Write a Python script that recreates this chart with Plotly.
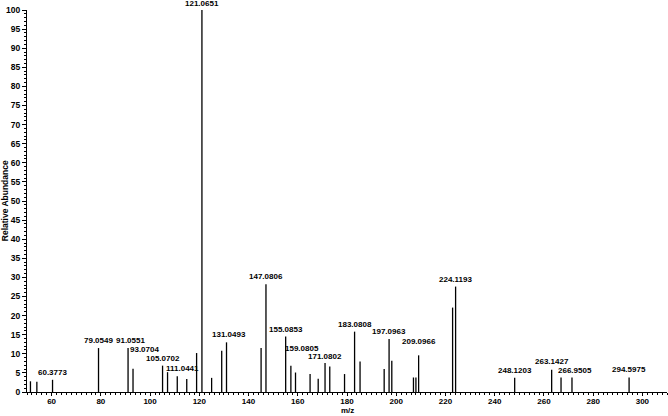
import plotly.graph_objects as go

# ---- data ----
mz = [51.4, 54.0, 60.3773, 79.0549, 91.0551, 93.0704, 105.0702, 107.1, 111.0441,
      114.9, 118.9, 121.0651, 125.0, 129.1, 131.0493, 145.1, 147.0806, 155.0853,
      157.2, 159.0805, 165.0, 168.3, 171.0802, 173.0, 179.0, 183.0808, 185.3,
      195.1, 197.0963, 198.2, 207.0, 208.0, 209.0966, 222.9, 224.1193, 248.1203,
      263.1427, 266.9505, 271.4, 294.5975]
abundance = [2.8, 2.7, 3.2, 11.5, 11.5, 6.1, 6.9, 5.2, 4.1,
             3.4, 10.2, 100.0, 3.7, 10.8, 13.0, 11.5, 28.2, 14.5,
             6.9, 5.1, 4.7, 3.5, 7.6, 6.7, 4.7, 15.8, 8.0,
             6.0, 13.9, 8.2, 3.8, 3.8, 9.6, 22.1, 27.6, 3.7,
             5.8, 3.8, 3.8, 3.8]
labels = ["", "", "60.3773", "79.0549", "91.0551", "93.0704", "105.0702", "", "111.0441",
          "", "", "121.0651", "", "", "131.0493", "", "147.0806", "155.0853",
          "", "159.0805", "", "", "171.0802", "", "", "183.0808", "",
          "", "197.0963", "", "", "", "209.0966", "", "224.1193", "248.1203",
          "263.1427", "266.9505", "", "294.5975"]

x_ticks = [60, 80, 100, 120, 140, 160, 180, 200, 220, 240, 260, 280, 300]
y_ticks = list(range(0, 101, 5))

# label placement tweaks (style only): label -> (xshift, yshift)
label_shift = {
    "91.0551": (2, 1),
    "93.0704": (11, 13),
    "111.0441": (5, 1),
    "121.0651": (0, 0),
    "131.0493": (2, 1),
    "159.0805": (6, 18),
    "171.0802": (0, 0),
    "209.0966": (0, 7),
    "263.1427": (0, 2),
    "266.9505": (14, 0),
}

FONT = "Liberation Sans, Arial, sans-serif"
T, B = 10, 24
PLOT_H = 416 - T - B

xs, ys = [], []
for m, a in zip(mz, abundance):
    xs += [m, m, None]
    ys += [0, a, None]

fig = go.Figure(go.Scatter(x=xs, y=ys, mode="lines",
                           line=dict(color="black", width=1.3),
                           hoverinfo="skip", showlegend=False))

for m, a, lab in zip(mz, abundance, labels):
    if not lab:
        continue
    dx, dy = label_shift.get(lab, (0, 1))
    fig.add_annotation(x=m, y=a, text="<b>%s</b>" % lab, showarrow=False,
                       xanchor="center", yanchor="bottom", xshift=dx, yshift=dy,
                       font=dict(family=FONT, size=8, color="black"))

fig.add_annotation(x=0.5, y=-B / PLOT_H, xref="paper", yref="paper", text="<b>m/z</b>",
                   showarrow=False, xanchor="center", yanchor="bottom",
                   borderpad=0,
                   font=dict(family=FONT, size=8, color="black"))
fig.add_annotation(x=-0.034, y=0.5, xref="paper", yref="paper",
                   text="<b>Relative Abundance</b>", textangle=-90,
                   showarrow=False, xanchor="center", yanchor="middle",
                   font=dict(family=FONT, size=8.5, color="black"))

fig.update_layout(
    width=668, height=416,
    margin=dict(l=27, r=1, t=T, b=B),
    paper_bgcolor="white", plot_bgcolor="white",
    font=dict(family=FONT, size=8.5, color="black"),
    xaxis=dict(range=[50, 310], tickvals=x_ticks,
               ticktext=["<b>%d</b>" % v for v in x_ticks],
               showgrid=False, zeroline=False, showline=True, linecolor="black",
               linewidth=1, ticks="outside", ticklen=3, tickcolor="black",
               ticklabelstandoff=-2,
               minor=dict(dtick=2, tick0=50, ticks="outside", ticklen=2, tickcolor="black"),
               tickfont=dict(family=FONT, size=8, color="black")),
    yaxis=dict(range=[0, 100], tickvals=y_ticks,
               ticktext=["<b>%d</b>" % v for v in y_ticks],
               showgrid=False, zeroline=False, showline=True, linecolor="black",
               linewidth=1, ticks="outside", ticklen=4, tickcolor="black",
               minor=dict(dtick=1, ticks="outside", ticklen=2, tickcolor="black"),
               tickfont=dict(family=FONT, size=8.5, color="black")),
)

fig.write_html("out.html", config={"displayModeBar": False},
               post_script="document.body.style.margin='0px';document.body.style.overflow='hidden';")
